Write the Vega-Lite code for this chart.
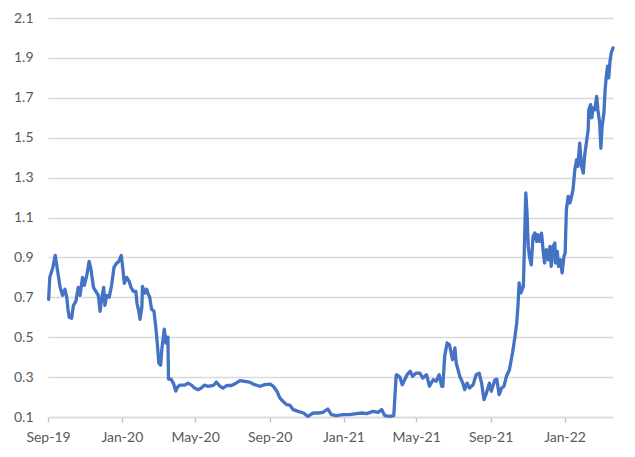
{
  "$schema": "https://vega.github.io/schema/vega-lite/v6.json",
  "autosize": {"type": "none"},
  "width": 565,
  "height": 399,
  "padding": {"left": 48, "top": 18, "right": 22, "bottom": 40},
  "background": "white",
  "config": {
    "view": {"stroke": null},
    "font": "Lato",
    "axis": {"labelFont": "Lato", "labelFontSize": 14, "labelColor": "#595959"}
  },
  "data": {
    "values": [
      {"date": "2019-09-02", "value": 0.69},
      {"date": "2019-09-04", "value": 0.80},
      {"date": "2019-09-09", "value": 0.85},
      {"date": "2019-09-13", "value": 0.91},
      {"date": "2019-09-16", "value": 0.85},
      {"date": "2019-09-21", "value": 0.75},
      {"date": "2019-09-25", "value": 0.71},
      {"date": "2019-09-29", "value": 0.74},
      {"date": "2019-10-02", "value": 0.70},
      {"date": "2019-10-04", "value": 0.64},
      {"date": "2019-10-06", "value": 0.60},
      {"date": "2019-10-10", "value": 0.595},
      {"date": "2019-10-13", "value": 0.66},
      {"date": "2019-10-17", "value": 0.68},
      {"date": "2019-10-21", "value": 0.75},
      {"date": "2019-10-24", "value": 0.71},
      {"date": "2019-10-28", "value": 0.80},
      {"date": "2019-10-31", "value": 0.76},
      {"date": "2019-11-04", "value": 0.81},
      {"date": "2019-11-08", "value": 0.88},
      {"date": "2019-11-11", "value": 0.84},
      {"date": "2019-11-15", "value": 0.75},
      {"date": "2019-11-19", "value": 0.73},
      {"date": "2019-11-23", "value": 0.71},
      {"date": "2019-11-26", "value": 0.63},
      {"date": "2019-11-29", "value": 0.70},
      {"date": "2019-12-02", "value": 0.75},
      {"date": "2019-12-04", "value": 0.66},
      {"date": "2019-12-07", "value": 0.71},
      {"date": "2019-12-11", "value": 0.70},
      {"date": "2019-12-15", "value": 0.76},
      {"date": "2019-12-19", "value": 0.85},
      {"date": "2019-12-23", "value": 0.87},
      {"date": "2019-12-27", "value": 0.88},
      {"date": "2019-12-31", "value": 0.91},
      {"date": "2020-01-02", "value": 0.86},
      {"date": "2020-01-05", "value": 0.77},
      {"date": "2020-01-09", "value": 0.80},
      {"date": "2020-01-13", "value": 0.78},
      {"date": "2020-01-16", "value": 0.75},
      {"date": "2020-01-20", "value": 0.73},
      {"date": "2020-01-24", "value": 0.73},
      {"date": "2020-01-26", "value": 0.67},
      {"date": "2020-01-29", "value": 0.63},
      {"date": "2020-01-31", "value": 0.59},
      {"date": "2020-02-03", "value": 0.65},
      {"date": "2020-02-04", "value": 0.755},
      {"date": "2020-02-08", "value": 0.72},
      {"date": "2020-02-11", "value": 0.74},
      {"date": "2020-02-13", "value": 0.72},
      {"date": "2020-02-16", "value": 0.70},
      {"date": "2020-02-19", "value": 0.64},
      {"date": "2020-02-23", "value": 0.63},
      {"date": "2020-02-26", "value": 0.55},
      {"date": "2020-02-29", "value": 0.45},
      {"date": "2020-03-02", "value": 0.37},
      {"date": "2020-03-05", "value": 0.36},
      {"date": "2020-03-07", "value": 0.44},
      {"date": "2020-03-11", "value": 0.54},
      {"date": "2020-03-14", "value": 0.47},
      {"date": "2020-03-17", "value": 0.50},
      {"date": "2020-03-18", "value": 0.29},
      {"date": "2020-03-22", "value": 0.29},
      {"date": "2020-03-26", "value": 0.27},
      {"date": "2020-03-30", "value": 0.23},
      {"date": "2020-04-02", "value": 0.25},
      {"date": "2020-04-06", "value": 0.26},
      {"date": "2020-04-14", "value": 0.26},
      {"date": "2020-04-19", "value": 0.27},
      {"date": "2020-04-25", "value": 0.26},
      {"date": "2020-04-30", "value": 0.245},
      {"date": "2020-05-06", "value": 0.237},
      {"date": "2020-05-11", "value": 0.245},
      {"date": "2020-05-16", "value": 0.26},
      {"date": "2020-05-22", "value": 0.254},
      {"date": "2020-05-31", "value": 0.258},
      {"date": "2020-06-05", "value": 0.275},
      {"date": "2020-06-11", "value": 0.254},
      {"date": "2020-06-16", "value": 0.245},
      {"date": "2020-06-22", "value": 0.258},
      {"date": "2020-06-30", "value": 0.258},
      {"date": "2020-07-05", "value": 0.265},
      {"date": "2020-07-14", "value": 0.282},
      {"date": "2020-07-22", "value": 0.279},
      {"date": "2020-07-30", "value": 0.275},
      {"date": "2020-08-07", "value": 0.262},
      {"date": "2020-08-16", "value": 0.254},
      {"date": "2020-08-24", "value": 0.262},
      {"date": "2020-09-02", "value": 0.265},
      {"date": "2020-09-07", "value": 0.254},
      {"date": "2020-09-13", "value": 0.229},
      {"date": "2020-09-18", "value": 0.195},
      {"date": "2020-09-23", "value": 0.179},
      {"date": "2020-09-29", "value": 0.162},
      {"date": "2020-10-04", "value": 0.16},
      {"date": "2020-10-10", "value": 0.137},
      {"date": "2020-10-18", "value": 0.128},
      {"date": "2020-10-27", "value": 0.12},
      {"date": "2020-11-03", "value": 0.103},
      {"date": "2020-11-12", "value": 0.12},
      {"date": "2020-11-20", "value": 0.12},
      {"date": "2020-11-28", "value": 0.123},
      {"date": "2020-12-06", "value": 0.14},
      {"date": "2020-12-12", "value": 0.112},
      {"date": "2020-12-20", "value": 0.107},
      {"date": "2020-12-31", "value": 0.112},
      {"date": "2021-01-11", "value": 0.112},
      {"date": "2021-01-22", "value": 0.117},
      {"date": "2021-01-31", "value": 0.12},
      {"date": "2021-02-08", "value": 0.117},
      {"date": "2021-02-19", "value": 0.128},
      {"date": "2021-02-27", "value": 0.123},
      {"date": "2021-03-05", "value": 0.137},
      {"date": "2021-03-10", "value": 0.107},
      {"date": "2021-03-18", "value": 0.103},
      {"date": "2021-03-25", "value": 0.107},
      {"date": "2021-03-29", "value": 0.31},
      {"date": "2021-03-30", "value": 0.312},
      {"date": "2021-04-04", "value": 0.30},
      {"date": "2021-04-08", "value": 0.262},
      {"date": "2021-04-12", "value": 0.287},
      {"date": "2021-04-16", "value": 0.312},
      {"date": "2021-04-21", "value": 0.329},
      {"date": "2021-04-25", "value": 0.304},
      {"date": "2021-05-01", "value": 0.32},
      {"date": "2021-05-07", "value": 0.32},
      {"date": "2021-05-12", "value": 0.295},
      {"date": "2021-05-18", "value": 0.312},
      {"date": "2021-05-23", "value": 0.254},
      {"date": "2021-05-29", "value": 0.287},
      {"date": "2021-06-03", "value": 0.279},
      {"date": "2021-06-08", "value": 0.312},
      {"date": "2021-06-12", "value": 0.254},
      {"date": "2021-06-14", "value": 0.254},
      {"date": "2021-06-17", "value": 0.404},
      {"date": "2021-06-21", "value": 0.471},
      {"date": "2021-06-25", "value": 0.462},
      {"date": "2021-06-30", "value": 0.387},
      {"date": "2021-07-04", "value": 0.446},
      {"date": "2021-07-06", "value": 0.371},
      {"date": "2021-07-12", "value": 0.304},
      {"date": "2021-07-17", "value": 0.27},
      {"date": "2021-07-20", "value": 0.237},
      {"date": "2021-07-24", "value": 0.27},
      {"date": "2021-07-28", "value": 0.245},
      {"date": "2021-08-03", "value": 0.262},
      {"date": "2021-08-08", "value": 0.312},
      {"date": "2021-08-13", "value": 0.32},
      {"date": "2021-08-17", "value": 0.27},
      {"date": "2021-08-21", "value": 0.187},
      {"date": "2021-08-25", "value": 0.22},
      {"date": "2021-08-30", "value": 0.27},
      {"date": "2021-09-02", "value": 0.229},
      {"date": "2021-09-08", "value": 0.287},
      {"date": "2021-09-11", "value": 0.29},
      {"date": "2021-09-15", "value": 0.212},
      {"date": "2021-09-19", "value": 0.245},
      {"date": "2021-09-23", "value": 0.254},
      {"date": "2021-09-27", "value": 0.304},
      {"date": "2021-10-02", "value": 0.337},
      {"date": "2021-10-07", "value": 0.421},
      {"date": "2021-10-11", "value": 0.50},
      {"date": "2021-10-14", "value": 0.571},
      {"date": "2021-10-16", "value": 0.654},
      {"date": "2021-10-18", "value": 0.772},
      {"date": "2021-10-21", "value": 0.722},
      {"date": "2021-10-25", "value": 0.755},
      {"date": "2021-10-26", "value": 0.872},
      {"date": "2021-10-29", "value": 1.223},
      {"date": "2021-10-31", "value": 1.123},
      {"date": "2021-11-02", "value": 0.955},
      {"date": "2021-11-04", "value": 0.905},
      {"date": "2021-11-07", "value": 0.863},
      {"date": "2021-11-10", "value": 1.005},
      {"date": "2021-11-13", "value": 1.022},
      {"date": "2021-11-16", "value": 0.98},
      {"date": "2021-11-18", "value": 1.014},
      {"date": "2021-11-21", "value": 0.98},
      {"date": "2021-11-24", "value": 1.022},
      {"date": "2021-11-27", "value": 0.922},
      {"date": "2021-11-29", "value": 0.872},
      {"date": "2021-12-02", "value": 0.939},
      {"date": "2021-12-05", "value": 0.888},
      {"date": "2021-12-08", "value": 0.955},
      {"date": "2021-12-10", "value": 0.855},
      {"date": "2021-12-13", "value": 0.955},
      {"date": "2021-12-16", "value": 0.972},
      {"date": "2021-12-17", "value": 0.872},
      {"date": "2021-12-20", "value": 0.93},
      {"date": "2021-12-22", "value": 0.855},
      {"date": "2021-12-25", "value": 0.888},
      {"date": "2021-12-28", "value": 0.822},
      {"date": "2021-12-31", "value": 0.905},
      {"date": "2022-01-02", "value": 0.922},
      {"date": "2022-01-04", "value": 1.139},
      {"date": "2022-01-07", "value": 1.206},
      {"date": "2022-01-10", "value": 1.173},
      {"date": "2022-01-12", "value": 1.198},
      {"date": "2022-01-15", "value": 1.24},
      {"date": "2022-01-18", "value": 1.34},
      {"date": "2022-01-21", "value": 1.39},
      {"date": "2022-01-23", "value": 1.356},
      {"date": "2022-01-26", "value": 1.473},
      {"date": "2022-01-29", "value": 1.356},
      {"date": "2022-02-01", "value": 1.323},
      {"date": "2022-02-03", "value": 1.406},
      {"date": "2022-02-06", "value": 1.473},
      {"date": "2022-02-09", "value": 1.54},
      {"date": "2022-02-10", "value": 1.64},
      {"date": "2022-02-13", "value": 1.666},
      {"date": "2022-02-15", "value": 1.60},
      {"date": "2022-02-17", "value": 1.649},
      {"date": "2022-02-20", "value": 1.64},
      {"date": "2022-02-23", "value": 1.707},
      {"date": "2022-02-25", "value": 1.64},
      {"date": "2022-02-28", "value": 1.574},
      {"date": "2022-03-02", "value": 1.447},
      {"date": "2022-03-04", "value": 1.557},
      {"date": "2022-03-07", "value": 1.624},
      {"date": "2022-03-09", "value": 1.741},
      {"date": "2022-03-11", "value": 1.81},
      {"date": "2022-03-13", "value": 1.858},
      {"date": "2022-03-15", "value": 1.80},
      {"date": "2022-03-17", "value": 1.882},
      {"date": "2022-03-19", "value": 1.924},
      {"date": "2022-03-22", "value": 1.95}
    ]
  },
  "mark": {"type": "line", "color": "#4472C4", "strokeWidth": 3.3, "strokeJoin": "round", "strokeCap": "round"},
  "encoding": {
    "x": {
      "field": "date",
      "type": "temporal",
      "scale": {
        "type": "utc",
        "domain": [
          {"year": 2019, "month": 9, "date": 1, "utc": true},
          {"year": 2022, "month": 3, "date": 22, "utc": true}
        ]
      },
      "axis": {
        "title": null,
        "labelExpr": "utcFormat(datum.value, '%b-%y')",
        "values": [
          {"year": 2019, "month": 9, "date": 1, "utc": true},
          {"year": 2020, "month": 1, "date": 1, "utc": true},
          {"year": 2020, "month": 5, "date": 1, "utc": true},
          {"year": 2020, "month": 9, "date": 1, "utc": true},
          {"year": 2021, "month": 1, "date": 1, "utc": true},
          {"year": 2021, "month": 5, "date": 1, "utc": true},
          {"year": 2021, "month": 9, "date": 1, "utc": true},
          {"year": 2022, "month": 1, "date": 1, "utc": true}
        ],
        "grid": false,
        "domain": true,
        "domainColor": "#d9d9d9",
        "domainWidth": 1.3,
        "ticks": true,
        "tickColor": "#bfbfbf",
        "tickSize": 5,
        "tickWidth": 1.3,
        "labelPadding": 8,
        "labelAlign": "center",
        "labelFlush": false
      }
    },
    "y": {
      "field": "value",
      "type": "quantitative",
      "scale": {"domain": [0.1, 2.1], "nice": false, "zero": false},
      "axis": {
        "title": null,
        "values": [0.1, 0.3, 0.5, 0.7, 0.9, 1.1, 1.3, 1.5, 1.7, 1.9, 2.1],
        "format": ".1f",
        "grid": true,
        "gridColor": "#d9d9d9",
        "gridWidth": 1.3,
        "domain": false,
        "ticks": false,
        "labelPadding": 15
      }
    }
  }
}
